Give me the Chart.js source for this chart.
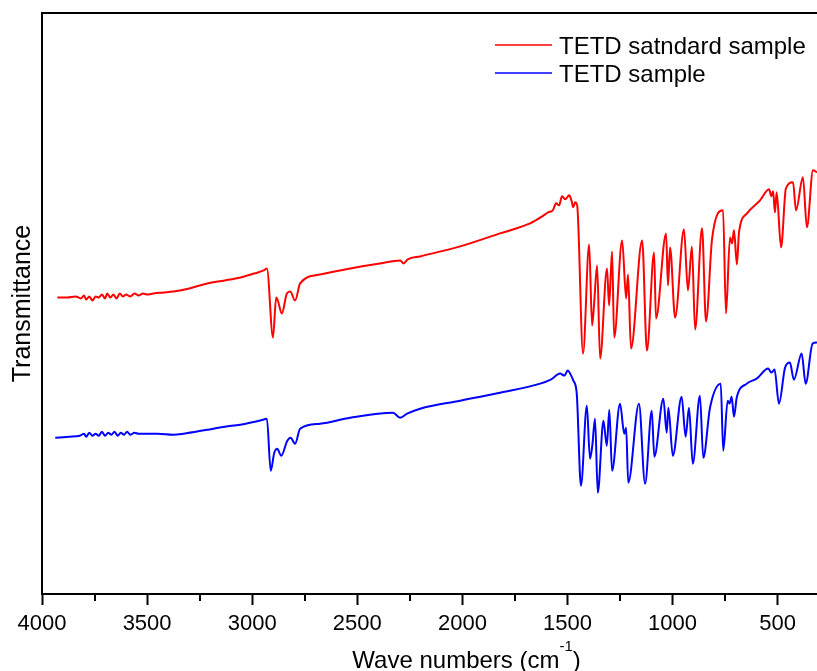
<!DOCTYPE html>
<html>
<head>
<meta charset="utf-8">
<title>FTIR spectra of TETD</title>
<script src="https://cdn.jsdelivr.net/npm/chart.js@4.4.1/dist/chart.umd.min.js"></script>
<style>
  html, body { margin: 0; padding: 0; background: #fff; overflow: hidden; }
  #wrap { width: 817px; height: 671px; }
</style>
</head>
<body>
<div id="wrap"><canvas id="c" width="817" height="671"></canvas></div>
<script>
// Series labels
const seriesLabels = ['TETD satndard sample', 'TETD sample'];

// TETD standard sample: wave number (cm-1) and transmittance (a.u.)
const wavenumbersStd = [
  3927, 3880, 3840, 3815, 3800, 3790, 3775, 3760, 3745, 3730, 3715, 3700, 3690, 3675,
  3660, 3645, 3630, 3615, 3600, 3580, 3560, 3540, 3520, 3500, 3470, 3420, 3375, 3300,
  3214, 3130, 3056, 2990, 2945, 2930, 2901, 2886, 2878, 2859, 2835, 2819, 2796, 2772,
  2677, 2534, 2391, 2296, 2280, 2260, 2201, 2011, 1821, 1678, 1620, 1592, 1570, 1554,
  1540, 1526, 1510, 1492, 1480, 1473, 1463, 1454, 1426, 1397, 1383, 1374, 1359, 1345,
  1312, 1302, 1288, 1278, 1240, 1221, 1212, 1198, 1145, 1122, 1088, 1079, 1031, 1022,
  1012, 988, 946, 927, 908, 893, 860, 841, 812, 760, 746, 727, 717, 708, 694, 684,
  646, 584, 541, 530, 522, 513, 505, 484, 461, 427, 413, 380, 361, 332, 313
];
const transmittanceStd = [
  296, 296, 297, 295, 298, 294, 297, 293, 297, 296, 299, 295, 300, 296,
  299, 295, 300, 297, 299, 297, 300, 298, 300, 299, 300, 301, 302, 305,
  310, 313, 316, 320, 323, 325, 256, 296, 293, 280, 300, 302, 293, 310,
  319, 325, 330, 333, 330, 334, 337, 347, 360, 370, 377, 381, 383, 390,
  388, 397, 394, 398, 392, 386, 391, 388, 240, 349, 268, 288, 328, 235,
  325, 288, 342, 256, 353, 295, 319, 245, 353, 243, 341, 275, 360, 308,
  346, 276, 364, 303, 347, 264, 365, 272, 355, 383, 280, 356, 350, 363, 329, 361,
  380, 393, 404, 397, 402, 381, 401, 346, 405, 411, 383, 416, 366, 423, 421
];

// TETD sample: wave number (cm-1) and transmittance (a.u.)
const wavenumbersSample = [
  3937, 3870, 3820, 3800, 3790, 3775, 3760, 3745, 3730, 3715, 3700, 3685, 3670, 3655,
  3640, 3625, 3610, 3595, 3580, 3560, 3540, 3500, 3450, 3375, 3327, 3214, 3130, 3057,
  2948, 2930, 2912, 2895, 2881, 2862, 2833, 2817, 2796, 2772, 2677, 2534, 2330, 2296,
  2263, 2201, 2011, 1821, 1630, 1580, 1535, 1515, 1499, 1485, 1472, 1456, 1436, 1408,
  1393, 1382, 1369, 1356, 1329, 1313, 1301, 1288, 1250, 1230, 1221, 1211, 1160, 1131,
  1099, 1087, 1044, 1028, 1020, 999, 957, 938, 922, 904, 870, 854, 822, 771, 759, 738,
  729, 719, 708, 695, 647, 600, 545, 530, 515, 494, 465, 442, 423, 386, 367, 334, 313
];
const transmittanceSample = [
  156, 157, 158, 160, 157, 161, 158, 160, 158, 162, 158, 161, 159, 162,
  158, 161, 159, 162, 159, 161, 160, 160, 160, 159, 160, 164, 167, 169,
  174, 175, 123, 141, 145, 138, 153, 156, 150, 165, 170, 176, 181, 176,
  180, 185, 193, 201, 210, 214, 220, 218, 223, 219, 213, 200, 108, 188,
  135, 148, 175, 101, 173, 148, 184, 123, 190, 160, 166, 111, 190, 110,
  183, 137, 195, 161, 186, 138, 197, 157, 186, 130, 198, 136, 186, 210, 143, 193,
  190, 197, 177, 196, 210, 215, 225, 221, 224, 190, 226, 231, 214, 240, 210, 250, 251
];

// Axis ticks (cm-1)
const xMajorTicks = [4000, 3500, 3000, 2500, 2000, 1500, 1000, 500];
const xMinorTicks = [3750, 3250, 2750, 2250, 1750, 1250, 750];
const xAxisRange = { max: 4000, min: 313 };
const yAxisRange = { min: 0, max: 580 };

const toPoints = (xs, ys) => xs.map((x, i) => ({ x: x, y: ys[i] }));
const FONT = "'Liberation Sans', Arial, Helvetica, sans-serif";

// Frame top edge, minor ticks, axis title with superscript and in-plot legend
const decorations = {
  id: 'decorations',
  afterDraw(chart) {
    const { ctx, chartArea: a, scales: { x } } = chart;
    ctx.save();
    ctx.strokeStyle = '#000';
    ctx.lineWidth = 2;
    ctx.beginPath();
    ctx.moveTo(a.left - 1, a.top);
    ctx.lineTo(a.right, a.top);
    ctx.stroke();

    ctx.beginPath();
    xMinorTicks.forEach(v => {
      const px = Math.round(x.getPixelForValue(v));
      ctx.moveTo(px, a.bottom);
      ctx.lineTo(px, a.bottom + 7);
    });
    ctx.stroke();

    // x-axis title: Wave numbers (cm^-1)
    const main = '24px ' + FONT, sup = '15px ' + FONT;
    const t1 = 'Wave numbers (cm', t2 = '-1', t3 = ')';
    ctx.font = main; const w1 = ctx.measureText(t1).width, w3 = ctx.measureText(t3).width;
    ctx.font = sup; const w2 = ctx.measureText(t2).width;
    const cx = x.getPixelForValue(1980);
    let sx = cx - (w1 + w2 + w3) / 2;
    const base = 668;
    ctx.fillStyle = '#000';
    ctx.textBaseline = 'alphabetic';
    ctx.textAlign = 'left';
    ctx.font = main; ctx.fillText(t1, sx, base); sx += w1;
    ctx.font = sup; ctx.fillText(t2, sx, base - 17); sx += w2;
    ctx.font = main; ctx.fillText(t3, sx, base);

    // legend
    ctx.font = '24px ' + FONT;
    chart.data.datasets.forEach((ds, i) => {
      const ly = a.top + 32 + i * 28;
      const lx = a.right - 322;
      ctx.strokeStyle = ds.borderColor;
      ctx.lineWidth = 1.5;
      ctx.beginPath();
      ctx.moveTo(lx, ly);
      ctx.lineTo(lx + 57, ly);
      ctx.stroke();
      ctx.fillStyle = '#000';
      ctx.fillText(ds.label, lx + 64, ly + 8.5);
    });
    ctx.restore();
  }
};

new Chart(document.getElementById('c'), {
  type: 'line',
  data: {
    datasets: [
      {
        label: seriesLabels[0],
        data: toPoints(wavenumbersStd, transmittanceStd),
        borderColor: '#ff0000',
        borderWidth: 2,
        pointRadius: 0,
        cubicInterpolationMode: 'monotone'
      },
      {
        label: seriesLabels[1],
        data: toPoints(wavenumbersSample, transmittanceSample),
        borderColor: '#0000ff',
        borderWidth: 2,
        pointRadius: 0,
        cubicInterpolationMode: 'monotone'
      }
    ]
  },
  options: {
    responsive: false,
    animation: false,
    events: [],
    layout: { padding: { top: 13, left: 0, right: 0, bottom: 0 } },
    plugins: { legend: { display: false }, tooltip: { enabled: false } },
    scales: {
      x: {
        type: 'linear',
        reverse: true,
        min: xAxisRange.min,
        max: xAxisRange.max,
        afterBuildTicks: s => { s.ticks = xMajorTicks.map(v => ({ value: v })); },
        afterFit: s => { s.height = 77; },
        ticks: {
          color: '#000',
          padding: 6,
          maxRotation: 0,
          autoSkip: false,
          font: { family: FONT, size: 22 },
          callback: v => String(v)
        },
        grid: {
          display: true,
          drawOnChartArea: false,
          drawTicks: true,
          tickLength: 11,
          tickWidth: 2,
          tickColor: '#000'
        },
        border: { display: true, color: '#000', width: 2 },
        title: { display: false }
      },
      y: {
        type: 'linear',
        min: yAxisRange.min,
        max: yAxisRange.max,
        afterFit: s => { s.width = 42; },
        ticks: { display: false },
        grid: { display: false },
        border: { display: true, color: '#000', width: 2 },
        title: {
          display: true,
          text: 'Transmittance',
          color: '#000',
          font: { family: FONT, size: 25 },
          padding: { top: 8, bottom: 0 }
        }
      }
    }
  },
  plugins: [decorations]
});
</script>
</body>
</html>
